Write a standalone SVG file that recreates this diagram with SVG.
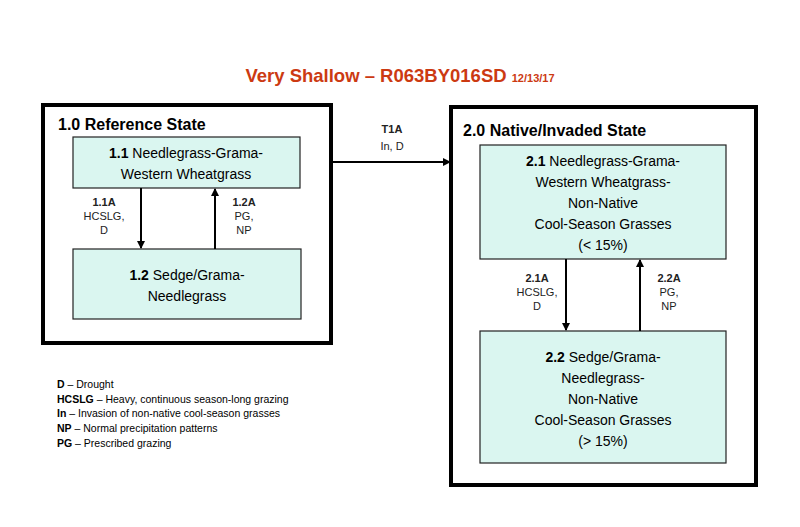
<svg xmlns="http://www.w3.org/2000/svg" width="800" height="527" viewBox="0 0 800 527">
<style>
text{font-family:"Liberation Sans",Arial,sans-serif;fill:#000}
.st{fill:#fff;stroke:#000;stroke-width:4}
.ph{fill:#daf6f0;stroke:#222;stroke-width:1.2}
.ti{font-size:16px;font-weight:bold}
.pt{font-size:14px;text-anchor:middle}
.lb{font-size:11px;text-anchor:middle;fill:#222}
.lg{font-size:10.5px}
.ar{stroke:#000;stroke-width:2;fill:none;marker-end:url(#ah)}
</style>
<defs><marker id="ah" markerWidth="8" markerHeight="8" refX="7" refY="4" orient="auto" markerUnits="userSpaceOnUse"><path d="M0,0L8,4L0,8z" fill="#000"/></marker></defs>
<rect width="800" height="527" fill="#fff"/>
<text x="400" y="82" text-anchor="middle" style="font-size:18.5px;font-weight:bold;fill:#cc3a12">Very Shallow – R063BY016SD <tspan style="font-size:11px;fill:#cc3a12">12/13/17</tspan></text>
<g id="state1">
<rect class="st" x="43" y="105" width="288" height="238"/>
<text class="ti" x="58" y="130">1.0 Reference State</text>
</g>
<g id="p11"><rect class="ph" x="73" y="137" width="227" height="51"/>
<text class="pt" x="186" y="158"><tspan font-weight="bold">1.1</tspan> Needlegrass-Grama-</text><text class="pt" x="186" y="179">Western Wheatgrass</text></g>
<g id="p12"><rect class="ph" x="73" y="249" width="228" height="70"/>
<text class="pt" x="187" y="280"><tspan font-weight="bold">1.2</tspan> Sedge/Grama-</text><text class="pt" x="187" y="301">Needlegrass</text></g>
<g id="state2">
<rect class="st" x="451" y="107" width="305" height="378"/>
<text class="ti" x="463" y="136">2.0 Native/Invaded State</text>
</g>
<g id="p21"><rect class="ph" x="480" y="145" width="246" height="114"/>
<text class="pt" x="603" y="166"><tspan font-weight="bold">2.1</tspan> Needlegrass-Grama-</text>
<text class="pt" x="603" y="187">Western Wheatgrass-</text>
<text class="pt" x="603" y="208">Non-Native</text>
<text class="pt" x="603" y="229">Cool-Season Grasses</text>
<text class="pt" x="603" y="250">(&lt; 15%)</text></g>
<g id="p22"><rect class="ph" x="480" y="331" width="246" height="132"/>
<text class="pt" x="603" y="362"><tspan font-weight="bold">2.2</tspan> Sedge/Grama-</text>
<text class="pt" x="603" y="383">Needlegrass-</text>
<text class="pt" x="603" y="404">Non-Native</text>
<text class="pt" x="603" y="425">Cool-Season Grasses</text>
<text class="pt" x="603" y="446">(&gt; 15%)</text></g>
<g id="connectors">
<line class="ar" x1="141" y1="188" x2="141" y2="248"/>
<line class="ar" x1="215" y1="249" x2="215" y2="189"/>
<line class="ar" x1="331" y1="162" x2="450" y2="162"/>
<line class="ar" x1="566" y1="259" x2="566" y2="330"/>
<line class="ar" x1="640" y1="331" x2="640" y2="260"/>
<text class="lb" x="104" y="206" font-weight="bold">1.1A</text><text class="lb" x="104" y="220">HCSLG,</text><text class="lb" x="104" y="234">D</text>
<text class="lb" x="244" y="206" font-weight="bold">1.2A</text><text class="lb" x="244" y="220">PG,</text><text class="lb" x="244" y="234">NP</text>
<text class="lb" x="392" y="133" font-weight="bold">T1A</text><text class="lb" x="392" y="150">In, D</text>
<text class="lb" x="537" y="282" font-weight="bold">2.1A</text><text class="lb" x="537" y="296">HCSLG,</text><text class="lb" x="537" y="310">D</text>
<text class="lb" x="669" y="282" font-weight="bold">2.2A</text><text class="lb" x="669" y="296">PG,</text><text class="lb" x="669" y="310">NP</text>
</g>
<g id="legend">
<text class="lg" x="57" y="388"><tspan font-weight="bold">D</tspan> – Drought</text>
<text class="lg" x="57" y="403"><tspan font-weight="bold">HCSLG</tspan> – Heavy, continuous season-long grazing</text>
<text class="lg" x="57" y="417"><tspan font-weight="bold">In</tspan> – Invasion of non-native cool-season grasses</text>
<text class="lg" x="57" y="432"><tspan font-weight="bold">NP</tspan> – Normal precipitation patterns</text>
<text class="lg" x="57" y="447"><tspan font-weight="bold">PG</tspan> – Prescribed grazing</text>
</g>
</svg>
